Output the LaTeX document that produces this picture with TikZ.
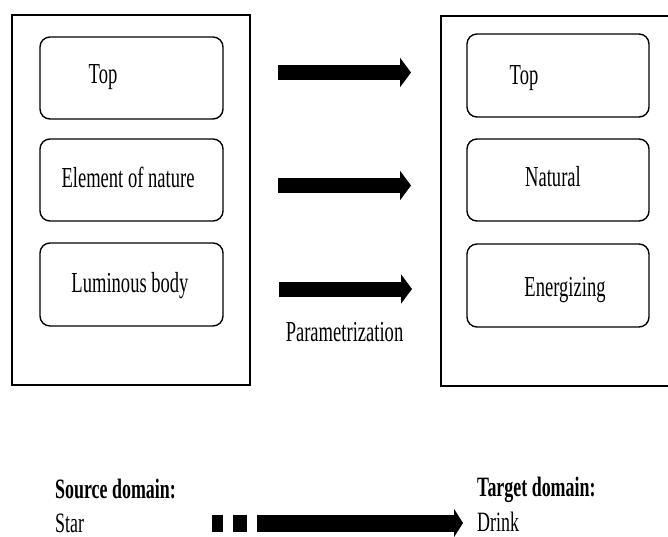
\documentclass[tikz,border=0pt]{standalone}
\usepackage{fontspec}
\setmainfont{Liberation Serif}[FakeStretch=0.64]
\usetikzlibrary{arrows.meta}
\begin{document}
\begin{tikzpicture}[x=1pt,y=-1pt,
  frame/.style={draw, line width=1.5pt, inner sep=0pt},
  item/.style={draw, line width=1.4pt, rounded corners=10pt, inner sep=0pt},
  lbl/.style={inner sep=0pt, anchor=base, font=\fontsize{29}{34}\selectfont},
  hlbl/.style={inner sep=0pt, anchor=base west, font=\fontsize{28}{33}\selectfont\bfseries},
  tlbl/.style={inner sep=0pt, anchor=base west, font=\fontsize{28}{33}\selectfont},
  bigarrow/.style={line width=15pt, line cap=butt, -{Triangle[length=11pt,width=29pt]}},
  dasharrow/.style={line width=17pt, line cap=butt, dash pattern=on 11pt off 10pt on 14pt off 10pt on 400pt, -{Triangle[length=9pt,width=28pt]}},
]
\useasboundingbox (0,0) rectangle (668,536);
% frames
\node[frame, minimum width=238pt, minimum height=370pt] (LF) at (131,200) {};
\node[frame, minimum width=249pt, minimum height=370pt] (RF) at (565.5,201) {};
% left boxes
\node[item, minimum width=183pt, minimum height=82pt] (L1) at (131.5,78) {};
\node[item, minimum width=183pt, minimum height=82pt] (L2) at (131.5,180) {};
\node[item, minimum width=183pt, minimum height=83pt] (L3) at (131.5,284.5) {};
% right boxes
\node[item, minimum width=182pt, minimum height=83pt] (R1) at (558,75.5) {};
\node[item, minimum width=182pt, minimum height=82pt] (R2) at (558,180) {};
\node[item, minimum width=182pt, minimum height=83pt] (R3) at (558,285.5) {};
% labels
\node[lbl] (t1) at (103,83) {Top};
\node[lbl] (t2) at (128,187) {Element of nature};
\node[lbl] (t3) at (130,292) {Luminous body};
\node[lbl] (u1) at (524,84) {Top};
\node[lbl] (u2) at (553,186) {Natural};
\node[lbl] (u3) at (565,296) {Energizing};
\node[lbl] (par) at (344.5,341) {Parametrization};
% arrows
\coordinate (a1s) at (278,72.5);
\coordinate (a1e) at (411,72.5);
\coordinate (a2s) at (278,185.5);
\coordinate (a2e) at (411,185.5);
\coordinate (a3s) at (279,289);
\coordinate (a3e) at (412,289);
\draw[bigarrow] (a1s) -- (a1e);
\draw[bigarrow] (a2s) -- (a2e);
\draw[bigarrow] (a3s) -- (a3e);
% bottom
\node[hlbl] (src) at (55,498) {Source domain:};
\node[tlbl] (star) at (55,532) {Star};
\node[hlbl] (tgt) at (477,496) {Target domain:};
\node[tlbl] (drink) at (477,531) {Drink};
\coordinate (ds) at (212,523);
\coordinate (de) at (463,523);
\draw[dasharrow] (ds) -- (de);
\end{tikzpicture}
\end{document}
